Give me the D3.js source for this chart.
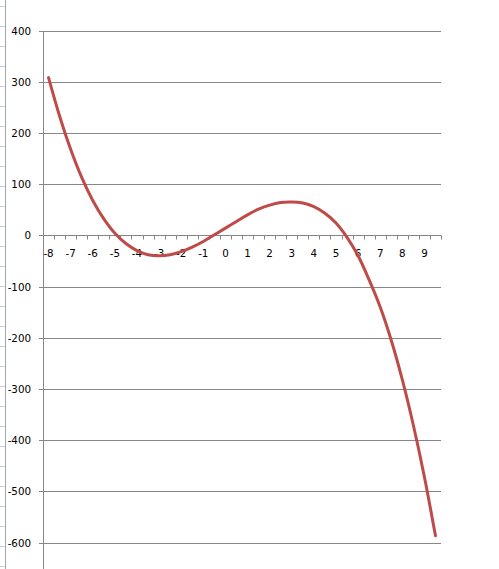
<!DOCTYPE html>
<html><head><meta charset="utf-8">
<script src="https://cdn.jsdelivr.net/npm/d3@7"></script>
<style>
html,body{margin:0;padding:0;background:#fff;}
svg{display:block;}
text{font-family:"DejaVu Sans",Verdana,sans-serif;font-size:10.3px;fill:#000;}
</style></head>
<body>
<svg id="c" width="499" height="569"></svg>
<script>
// Data
const xCats = [-8,-7.5,-7,-6.5,-6,-5.5,-5,-4.5,-4,-3.5,-3,-2.5,-2,-1.5,-1,-0.5,0,0.5,1,1.5,2,2.5,3,3.5,4,4.5,5,5.5,6,6.5,7,7.5,8,8.5,9,9.5];
const yValues = [308,233,168,113,68,32,4,-16,-30,-38,-40,-38,-32,-23,-12,1,14,27,40,51,59,64,65,63,56,43,24,-4,-40,-87,-140,-205,-282,-371,-472,-587];
const yTicks = [400,300,200,100,0,-100,-200,-300,-400,-500,-600];
const xLabels = [-8,-7,-6,-5,-4,-3,-2,-1,0,1,2,3,4,5,6,7,8,9];

const svg = d3.select("#c");
const left = 43, right = 441;

// spreadsheet edge decoration
svg.append("line").attr("x1",5.5).attr("x2",5.5).attr("y1",0).attr("y2",569).attr("stroke","#9ea5b0").attr("stroke-width",1);
svg.append("g").selectAll("line").data(d3.range(6,569,20)).join("line")
  .attr("x1",0).attr("x2",5).attr("y1",d=>d+0.5).attr("y2",d=>d+0.5)
  .attr("stroke","#c5cfdf");

const x = d3.scaleBand().domain(xCats.map(String)).range([left,right]).paddingInner(0).paddingOuter(0);
const y = d3.scaleLinear().domain([-700,400]).range([593.7,30.5]);

// gridlines
svg.append("g").selectAll("line").data(yTicks).join("line")
  .attr("x1",left-4).attr("x2",right).attr("y1",d=>Math.round(y(d))+0.5).attr("y2",d=>Math.round(y(d))+0.5)
  .attr("stroke","#868686").attr("stroke-width",1);

// y axis line
svg.append("line").attr("x1",left+0.5).attr("x2",left+0.5).attr("y1",Math.round(y(400))).attr("y2",569)
  .attr("stroke","#868686");

// y labels
svg.append("g").selectAll("text").data(yTicks).join("text")
  .attr("x",31).attr("y",d=>y(d)+4).attr("text-anchor","end").text(d=>d);

// x axis tick marks at category boundaries
const y0 = Math.round(y(0))+0.5;
const bounds = xCats.map(c=>x(String(c))).concat([x(String(xCats[xCats.length-1]))+x.bandwidth()]);
svg.append("g").selectAll("line").data(bounds).join("line")
  .attr("x1",d=>Math.round(d)+0.5).attr("x2",d=>Math.round(d)+0.5).attr("y1",y0).attr("y2",y0+4)
  .attr("stroke","#868686");

// x labels
svg.append("g").selectAll("text").data(xLabels).join("text")
  .attr("x",d=>x(String(d))+x.bandwidth()/2).attr("y",y0+21).attr("text-anchor","middle").text(d=>d);

// line
const line = d3.line().x((d,i)=>x(String(xCats[i]))+x.bandwidth()/2).y(d=>y(d)).curve(d3.curveCatmullRom.alpha(0.5));
svg.append("path").datum(yValues).attr("d",line).attr("fill","none")
  .attr("stroke","#BE4B48").attr("stroke-width",3).attr("stroke-linecap","round").attr("stroke-linejoin","round");
</script>
</body></html>
